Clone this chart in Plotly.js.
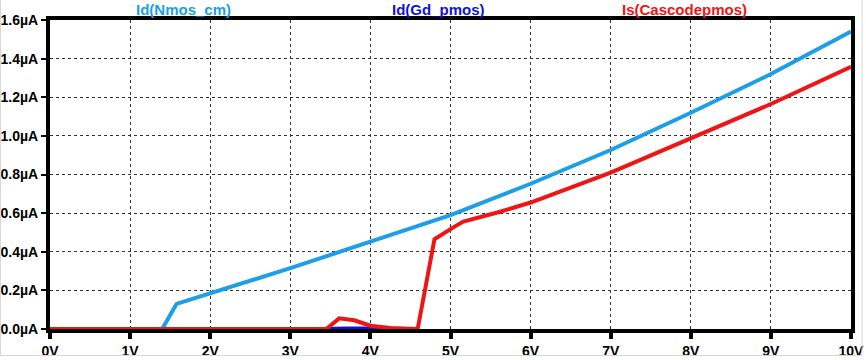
<!DOCTYPE html>
<html><head><meta charset="utf-8">
<script src="https://cdn.plot.ly/plotly-3.0.1.min.js"></script>
<style>html,body{margin:0;padding:0;background:#fff;}#chart{width:866px;height:360px;}</style>
</head><body><div id="chart"></div>
<script>
// Data (volts, µA)
const nmosX = [0, 1.40, 1.58, 2, 3, 4, 5, 6, 7, 8, 9, 10];
const nmosY = [0, 0, 0.13, 0.185, 0.315, 0.452, 0.59, 0.752, 0.927, 1.12, 1.32, 1.54];
const gdX = [3.40, 3.50, 3.70, 3.90, 4.10, 4.30];
const gdY = [0, 0.002, 0.003, 0.002, 0.001, 0];
const casX = [0, 3.45, 3.61, 3.80, 4.00, 4.25, 4.59, 4.80, 5.03, 5.16, 5.62, 6, 7, 8, 9, 10];
const casY = [0, 0, 0.055, 0.045, 0.017, 0.005, 0, 0.465, 0.525, 0.556, 0.607, 0.655, 0.81, 0.99, 1.165, 1.358];
const xTickVals = [0,1,2,3,4,5,6,7,8,9,10];
const xTickText = ["0V","1V","2V","3V","4V","5V","6V","7V","8V","9V","10V"];
const yTickVals = [0,0.2,0.4,0.6,0.8,1.0,1.2,1.4,1.6];
const yTickText = ["0.0µA","0.2µA","0.4µA","0.6µA","0.8µA","1.0µA","1.2µA","1.4µA","1.6µA"];
const names = ["Id(Nmos_cm)","Id(Gd_pmos)","Is(Cascodepmos)"];
const colors = ["#1c9fe6","#1010e0","#f01414"];

const traces = [
  {x: nmosX, y: nmosY, name: names[0], mode:"lines", line:{color:colors[0], width:4}},
  {x: gdX, y: gdY, name: names[1], mode:"lines", line:{color:colors[1], width:4}},
  {x: casX, y: casY, name: names[2], mode:"lines", line:{color:colors[2], width:4}}
];
const fam = "Liberation Sans, Arial, sans-serif";
const W = 801, H = 309; // plot area px
const px = v => (v - 50) / W;
const py = v => (329 - v) / H;
const layout = {
  width:866, height:360,
  margin:{l:50, r:15, t:20, b:31},
  paper_bgcolor:"#fff", plot_bgcolor:"#fff",
  showlegend:false,
  font:{family:fam, size:14, color:"#000"},
  xaxis:{range:[0,10], tickvals:xTickVals, ticktext:xTickText, showgrid:true,
    gridcolor:"#333", griddash:"dot", gridwidth:1, showline:true, linecolor:"#000", linewidth:4,
    mirror:true, ticks:"outside", ticklen:6, tickwidth:4, tickcolor:"#000", zeroline:false,
    tickfont:{family:fam, size:14, color:"#000", weight:"bold"}},
  yaxis:{range:[0,1.6], tickvals:yTickVals, ticktext:yTickText, showgrid:true,
    gridcolor:"#333", griddash:"dot", gridwidth:1, showline:true, linecolor:"#000", linewidth:4,
    mirror:true, ticks:"outside", ticklen:5, tickwidth:2, tickcolor:"#000", zeroline:false,
    tickfont:{family:fam, size:14, color:"#000", weight:"bold"}},
  annotations:[
    {text:names[0], xref:"paper", yref:"paper", x:px(183), y:py(10), xanchor:"center", yanchor:"middle", showarrow:false, font:{family:fam,size:15,color:colors[0],weight:"bold"}},
    {text:names[1], xref:"paper", yref:"paper", x:px(438), y:py(10), xanchor:"center", yanchor:"middle", showarrow:false, font:{family:fam,size:15,color:colors[1],weight:"bold"}},
    {text:names[2], xref:"paper", yref:"paper", x:px(684), y:py(10), xanchor:"center", yanchor:"middle", showarrow:false, font:{family:fam,size:15,color:colors[2],weight:"bold"}}
  ],
  shapes:[
    {type:"line", xref:"paper", yref:"paper", x0:px(0.5), x1:px(0.5), y0:py(0), y1:py(355.5), line:{color:"#d8d8d8", width:1}},
    {type:"line", xref:"paper", yref:"paper", x0:px(0), x1:px(862), y0:py(355.5), y1:py(355.5), line:{color:"#d8d8d8", width:1}},
    {type:"line", xref:"paper", yref:"paper", x0:px(862), x1:px(862), y0:py(0), y1:py(355.5), line:{color:"#d8d8d8", width:1}}
  ]
};
Plotly.newPlot("chart", traces, layout, {displayModeBar:false, staticPlot:true});
</script></body></html>
